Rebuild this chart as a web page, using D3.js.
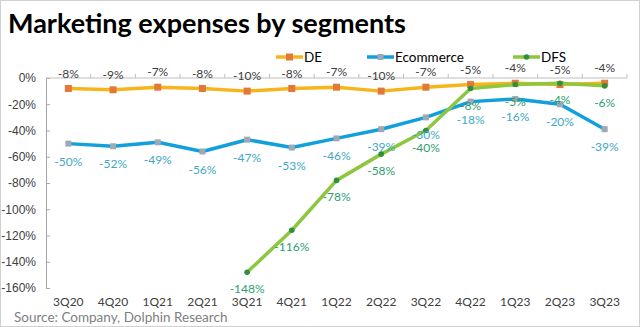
<!DOCTYPE html>
<html>
<head>
<meta charset="utf-8">
<script src="https://cdn.jsdelivr.net/npm/d3@7"></script>
<style>
  body { margin: 0; background: #fff; }
  svg { display: block; font-family: Lato, "Open Sans", sans-serif; }
</style>
</head>
<body>
<svg id="chart" width="640" height="327"></svg>
<script>
var quarters = ["3Q20","4Q20","1Q21","2Q21","3Q21","4Q21","1Q22","2Q22","3Q22","4Q22","1Q23","2Q23","3Q23"];
var deValues = [-8,-9,-7,-8,-10,-8,-7,-10,-7,-5,-4,-5,-4];
var ecomValues = [-50,-52,-49,-56,-47,-53,-46,-39,-30,-18,-16,-20,-39];
var dfsValues = [null,null,null,null,-148,-116,-78,-58,-40,-8,-5,-4,-6];
var yTicks = [0,-20,-40,-60,-80,-100,-120,-140,-160];

var svg = d3.select("#chart"),
    width = +svg.attr("width"),
    height = +svg.attr("height");

var margin = {left: 46, right: 13, top: 78, bottom: 39};

var x = d3.scaleBand()
    .domain(quarters)
    .range([margin.left, width - margin.right]);

var y = d3.scaleLinear()
    .domain([-160, 0])
    .range([height - margin.bottom, margin.top]);

// frame
svg.append("rect")
    .attr("x", 0.5).attr("y", 0.5)
    .attr("width", width - 1).attr("height", height - 1)
    .attr("fill", "#fff")
    .attr("stroke", "#d0d0d0");

// title
svg.append("text")
    .attr("x", 8)
    .attr("y", 33)
    .style("font", "bold 27px Lato")
    .attr("fill", "#000")
    .text("Marketing expenses by segments");

// y axis
var yAxis = svg.append("g")
    .attr("transform", "translate(" + margin.left + ",0)")
    .call(d3.axisLeft(y).tickValues(yTicks).tickSize(-4).tickPadding(10)
      .tickFormat(function(d) { return d + "%"; }));
yAxis.select(".domain").attr("stroke", "#a6a6a6");
yAxis.selectAll(".tick line").attr("stroke", "#a6a6a6");
yAxis.selectAll("text").attr("fill", "#404040").style("font-size", "12px");

// x axis on the zero line, ticks between categories
svg.append("line")
    .attr("x1", margin.left).attr("x2", width - margin.right)
    .attr("y1", y(0)).attr("y2", y(0))
    .attr("stroke", "#bfbfbf");
svg.append("g").selectAll("line")
    .data(quarters)
    .enter().append("line")
    .attr("x1", function(d) { return x(d) + x.bandwidth(); })
    .attr("x2", function(d) { return x(d) + x.bandwidth(); })
    .attr("y1", y(0)).attr("y2", y(0) - 4)
    .attr("stroke", "#bfbfbf");

// category labels at bottom
svg.append("g").selectAll("text")
    .data(quarters)
    .enter().append("text")
    .attr("x", function(d) { return x(d) + x.bandwidth() / 2; })
    .attr("y", height - 21)
    .attr("text-anchor", "middle")
    .attr("fill", "#404040")
    .style("font-size", "12px")
    .text(function(d) { return d; });

// source
svg.append("text")
    .attr("x", 14)
    .attr("y", 322)
    .attr("fill", "#808080")
    .style("font-size", "13.5px")
    .text("Source: Company,  Dolphin Research");

var cx = function(i) { return x(quarters[i]) + x.bandwidth() / 2; };

var series = [
  {name: "DE", values: deValues, line: "#f7b51b", marker: "#e2793a", shape: "square", labelColor: "#404040", dy: -11},
  {name: "Ecommerce", values: ecomValues, line: "#12a0dd", marker: "#9fa9b4", shape: "diamond", labelColor: "#3fa8c4", dy: 22},
  {name: "DFS", values: dfsValues, line: "#8dc63f", marker: "#2f8f3b", shape: "circle", labelColor: "#2e9e72", dy: 21}
];

var line = d3.line()
    .defined(function(d) { return d != null; })
    .x(function(d, i) { return cx(i); })
    .y(function(d) { return y(d); });

function marker(g, s, px, py) {
  if (s.shape == "square") {
    g.append("rect").attr("x", px - 3.5).attr("y", py - 3.5).attr("width", 7).attr("height", 7).attr("fill", s.marker);
  } else if (s.shape == "diamond") {
    g.append("rect").attr("x", px - 3).attr("y", py - 3).attr("width", 6).attr("height", 6).attr("fill", s.marker);
  } else {
    g.append("circle").attr("cx", px).attr("cy", py).attr("r", 2.8).attr("fill", s.marker);
  }
}

series.forEach(function(s) {
  var g = svg.append("g");
  g.append("path")
    .datum(s.values)
    .attr("fill", "none")
    .attr("stroke", s.line)
    .attr("stroke-width", 3.5)
    .attr("stroke-linejoin", "round")
    .attr("d", line);
  s.values.forEach(function(v, i) {
    if (v == null) return;
    marker(g, s, cx(i), y(v));
  });
});

// data labels on top
series.forEach(function(s) {
  svg.append("g").selectAll("text")
    .data(s.values.map(function(v, i) { return {v: v, i: i}; }).filter(function(d) { return d.v != null; }))
    .enter().append("text")
    .attr("x", function(d) { return cx(d.i); })
    .attr("y", function(d) { return y(d.v) + s.dy; })
    .attr("text-anchor", "middle")
    .attr("fill", s.labelColor)
    .style("font-size", "12px")
    .text(function(d) { return d.v + "%"; });
});

// legend
var legendX = [276, 367, 513];
series.forEach(function(s, i) {
  var g = svg.append("g").attr("transform", "translate(" + legendX[i] + ",57)");
  g.append("line").attr("x1", 0).attr("x2", 27).attr("y1", 0).attr("y2", 0)
    .attr("stroke", s.line).attr("stroke-width", 3.5);
  marker(g, s, 13.5, 0);
  g.append("text").attr("x", 28).attr("y", 5)
    .attr("fill", "#000").style("font-size", "13.5px").text(s.name);
});
</script>
</body>
</html>
